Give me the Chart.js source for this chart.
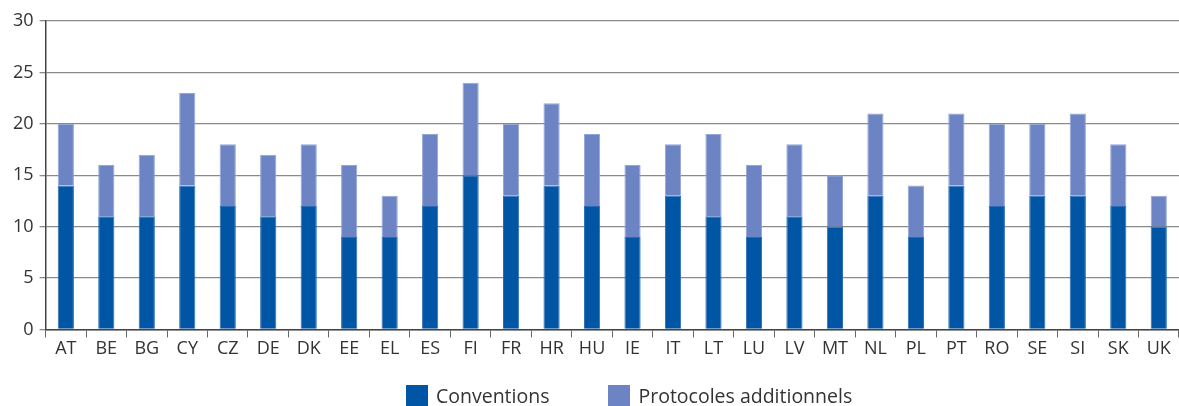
<!DOCTYPE html>
<html>
<head>
<meta charset="utf-8">
<script src="https://cdn.jsdelivr.net/npm/chart.js@4.4.1/dist/chart.umd.min.js"></script>
<style>
    html, body { margin: 0; padding: 0; background: #fff; }
    #wrap { position: relative; width: 1179px; height: 406px; }
    #legend {
        position: absolute; left: 406px; top: 382px;
        display: flex; align-items: center;
        font-family: "Open Sans", sans-serif; font-size: 19.5px; color: #333;
    }
    .item { display: flex; align-items: center; }
    .item + .item { margin-left: 59px; }
    .box { width: 22px; height: 22px; margin-right: 8px; }
</style>
</head>
<body>
<div id="wrap">
    <canvas id="chart" width="1179" height="406"></canvas>
    <div id="legend"></div>
</div>
<script>
// Pays
const categories = ['AT', 'BE', 'BG', 'CY', 'CZ', 'DE', 'DK', 'EE', 'EL', 'ES', 'FI', 'FR', 'HR', 'HU',
    'IE', 'IT', 'LT', 'LU', 'LV', 'MT', 'NL', 'PL', 'PT', 'RO', 'SE', 'SI', 'SK', 'UK'];

// Conventions
const conventions = [14, 11, 11, 14, 12, 11, 12, 9, 9, 12, 15, 13, 14, 12,
    9, 13, 11, 9, 11, 10, 13, 9, 14, 12, 13, 13, 12, 10];

// Protocoles additionnels
const protocoles = [6, 5, 6, 9, 6, 6, 6, 7, 4, 7, 9, 7, 8, 7,
    7, 5, 8, 7, 7, 5, 8, 5, 7, 8, 7, 8, 6, 3];

const yTicks = [0, 5, 10, 15, 20, 25, 30];

const darkBlue = '#0055a4';
const lightBlue = '#6d84c4';

const font = { family: '"Open Sans", sans-serif', size: 18 };

new Chart(document.getElementById('chart'), {
    type: 'bar',
    data: {
        labels: categories,
        datasets: [
            {
                label: 'Conventions',
                data: conventions,
                backgroundColor: darkBlue,
                borderColor: '#2a6db5',
                borderWidth: 1,
                barPercentage: 0.4,
                categoryPercentage: 1
            },
            {
                label: 'Protocoles additionnels',
                data: protocoles,
                backgroundColor: lightBlue,
                borderColor: '#93a5d8',
                borderWidth: 1,
                barPercentage: 0.4,
                categoryPercentage: 1
            }
        ]
    },
    options: {
        responsive: false,
        animation: false,
        layout: { padding: { top: 21, right: 0, bottom: 45, left: 7 } },
        plugins: {
            legend: { display: false },
            tooltip: { enabled: false }
        },
        scales: {
            x: {
                stacked: true,
                grid: { drawOnChartArea: false, color: '#666', tickLength: 8, offset: true },
                border: { color: '#444', width: 1.5 },
                ticks: { color: '#333', font: font, padding: 1 }
            },
            y: {
                stacked: true,
                min: 0,
                max: 30,
                afterBuildTicks: function(axis) {
                    axis.ticks = yTicks.map(v => ({ value: v }));
                },
                grid: { color: '#8a8a8a', lineWidth: 1.3, tickLength: 6 },
                border: { color: '#444', width: 1.5 },
                ticks: { color: '#333', font: font, padding: 6 }
            }
        }
    }
});

// Légende
const legend = document.getElementById('legend');
[['Conventions', darkBlue], ['Protocoles additionnels', lightBlue]].forEach(([text, color]) => {
    const item = document.createElement('div');
    item.className = 'item';
    item.innerHTML = '<span class="box" style="background:' + color + '"></span><span>' + text + '</span>';
    legend.appendChild(item);
});
</script>
</body>
</html>
